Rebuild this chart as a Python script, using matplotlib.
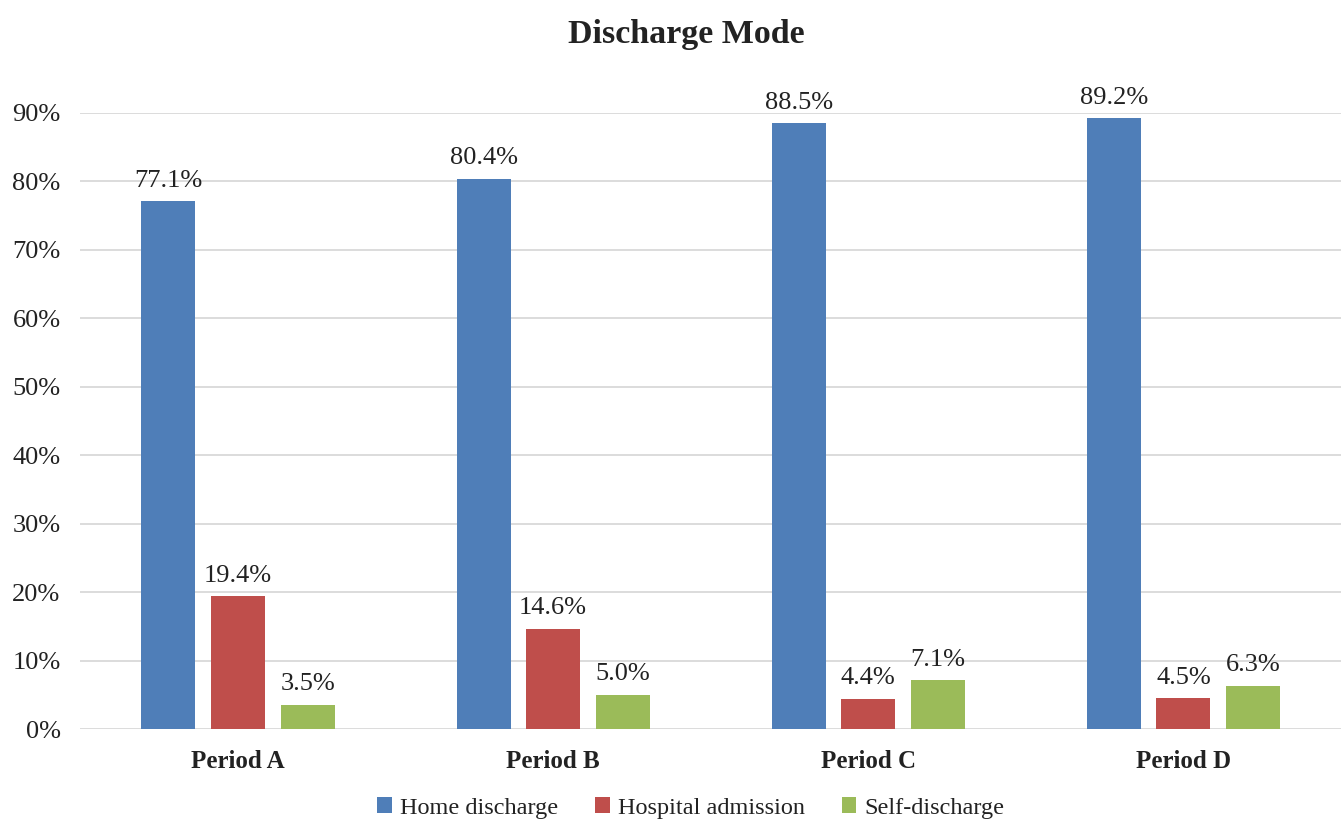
import matplotlib
matplotlib.use("Agg")
import matplotlib.pyplot as plt
import numpy as np

periods = ["Period A", "Period B", "Period C", "Period D"]
series_names = ["Home discharge", "Hospital admission", "Self-discharge"]
home_discharge = [77.1, 80.4, 88.5, 89.2]
hospital_admission = [19.4, 14.6, 4.4, 4.5]
self_discharge = [3.5, 5.0, 7.1, 6.3]
y_ticks = [0, 10, 20, 30, 40, 50, 60, 70, 80, 90]

colors = ["#4F7EB8", "#BF4E4B", "#9BBB59"]
text_color = "#222222"

plt.rcParams["font.family"] = ["Liberation Serif", "DejaVu Serif"]

fig = plt.figure(figsize=(13.41, 8.21), dpi=100)
ax = fig.add_axes([0.0597, 0.112, 0.9403, 0.7504])

x = np.arange(len(periods))
width = 0.171
offsets = [-0.220, 0.0, 0.222]
all_series = [home_discharge, hospital_admission, self_discharge]

for vals, off, col, name in zip(all_series, offsets, colors, series_names):
    bars = ax.bar(x + off, vals, width=width, color=col, label=name, zorder=3)
    for b, v in zip(bars, vals):
        ax.annotate(f"{v:.1f}%", (b.get_x() + b.get_width() / 2, v),
                    xytext=(0, 7), textcoords="offset points",
                    ha="center", va="bottom", fontsize=19, color=text_color)

ax.set_xlim(-0.5, 3.5)
ax.set_ylim(0, 90)
ax.set_yticks(y_ticks)
ax.set_yticklabels([f"{t}%" for t in y_ticks], fontsize=19, color=text_color)
ax.set_xticks(x)
ax.set_xticklabels(periods, fontsize=18, fontweight="bold", color=text_color)
ax.tick_params(axis="both", length=0)
ax.tick_params(axis="y", pad=14)
ax.tick_params(axis="x", pad=15)

ax.grid(axis="y", color="#D9D9D9", linewidth=1.3, zorder=0)
for s in ax.spines.values():
    s.set_visible(False)

fig.text(686 / 1341, 1 - 34 / 821, "Discharge Mode", fontsize=24.5, fontweight="bold",
         ha="center", va="center", color=text_color)

handles, labels = ax.get_legend_handles_labels()
fig.legend(handles, labels, loc="center", bbox_to_anchor=(691 / 1341, 1 - 808 / 821),
           ncol=3, frameon=False, fontsize=17.5, handlelength=0.6, handleheight=0.6,
           handletextpad=0.35, columnspacing=1.5, labelcolor=text_color)

fig.savefig("out.png", dpi=100)
